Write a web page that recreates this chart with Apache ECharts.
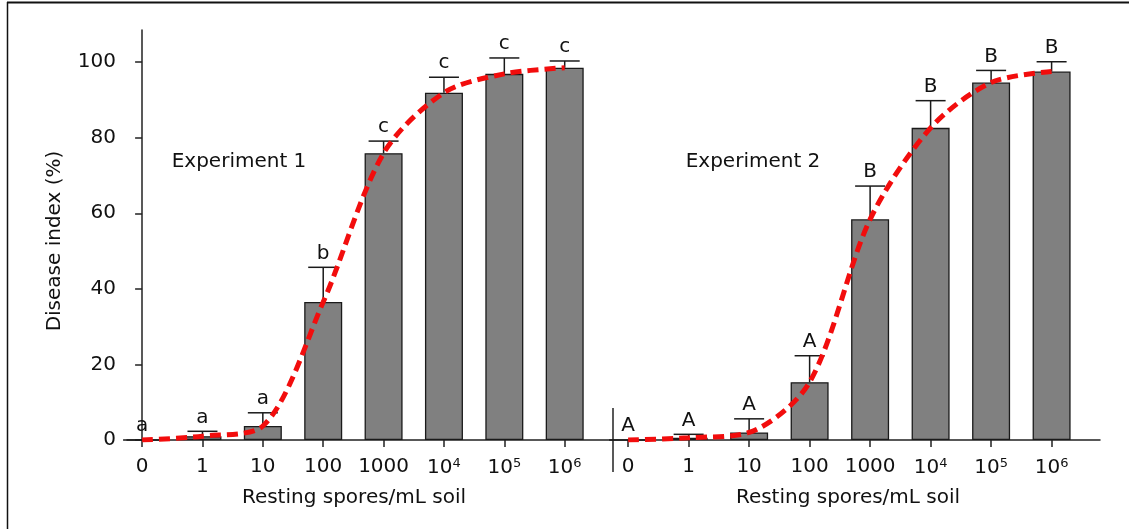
<!DOCTYPE html>
<html>
<head>
<meta charset="utf-8">
<script src="https://cdn.jsdelivr.net/npm/echarts@6/dist/echarts.min.js"></script>
<style>
  html, body { margin: 0; padding: 0; background: #fff; }
  #main { width: 1129px; height: 529px; }
</style>
</head>
<body>
<div id="main"></div>
<script>
// spore concentrations (x categories), tick labels
var xLabels = ['0', '1', '10', '100', '1000', '10^4', '10^5', '10^6'];
var yTicks = [0, 20, 40, 60, 80, 100];

// Experiment 1: disease index means, SD and significance letters
var exp1Mean = [0, 1.0, 3.7, 36.5, 75.9, 91.9, 96.9, 98.5];
var exp1Err = [0, 1.3, 3.5, 9.2, 3.2, 4.1, 4.2, 1.8];
var exp1Letters = ['a', 'a', 'a', 'b', 'c', 'c', 'c', 'c'];

// Experiment 2
var exp2Mean = [0, 0.6, 2.0, 15.3, 58.4, 82.6, 94.6, 97.5];
var exp2Err = [0, 0.9, 3.6, 7.0, 8.8, 7.2, 3.2, 2.6];
var exp2Letters = ['A', 'A', 'A', 'A', 'B', 'B', 'B', 'B'];

var FONT = 'DejaVu Sans';
var idx = xLabels.map(function (d, i) { return i; });

var myChart = echarts.init(document.getElementById('main'));

function xLabelFmt(v) {
    var s = xLabels[Math.round(v)];
    if (s === undefined) return '';
    if (s.indexOf('^') > -1) {
        var p = s.split('^');
        return '{b|' + p[0] + '}{s|' + p[1] + '}';
    }
    return '{b|' + s + '}';
}

function makeXAxis(gridIndex, padRight) {
    return {
        type: 'value',
        gridIndex: gridIndex,
        min: -0.25,
        max: 7.8,
        name: 'Resting spores/mL soil',
        nameLocation: 'middle',
        nameGap: 48,
        nameTextStyle: { fontFamily: FONT, fontSize: 20, color: '#111', padding: [0, padRight, 0, 0] },
        axisLine: { show: true, onZero: false, lineStyle: { color: '#222', width: 1.5 } },
        axisTick: { show: true, customValues: idx, length: 7, lineStyle: { color: '#222', width: 1.5 } },
        axisLabel: {
            customValues: idx,
            margin: 17,
            formatter: xLabelFmt,
            rich: {
                b: { fontFamily: FONT, fontSize: 20, color: '#111' },
                s: { fontFamily: FONT, fontSize: 13, color: '#111', verticalAlign: 'top', padding: [0, 0, 9, 0] }
            }
        },
        splitLine: { show: false }
    };
}

function makeYAxis(gridIndex, visible) {
    return {
        type: 'value',
        gridIndex: gridIndex,
        min: 0,
        max: 108.5,
        show: visible,
        name: visible ? 'Disease index (%)' : '',
        nameLocation: 'middle',
        nameGap: 62,
        nameTextStyle: { fontFamily: FONT, fontSize: 20, color: '#111', padding: [0, 12, 0, 0] },
        axisLine: { show: true, lineStyle: { color: '#222', width: 1.5 } },
        axisTick: { show: true, customValues: yTicks, length: 7, lineStyle: { color: '#222', width: 1.5 } },
        axisLabel: { customValues: yTicks, margin: 11, fontFamily: FONT, fontSize: 20, color: '#111' },
        splitLine: { show: false }
    };
}

function barSeries(gi, mean) {
    return {
        type: 'bar',
        xAxisIndex: gi,
        yAxisIndex: gi,
        barWidth: 38,
        z: 2,
        itemStyle: { color: '#808080', borderColor: '#1a1a1a', borderWidth: 1.3 },
        data: mean.map(function (v, i) { return [i, v]; })
    };
}

function errSeries(gi, mean, err, letters) {
    return {
        type: 'custom',
        xAxisIndex: gi,
        yAxisIndex: gi,
        z: 3,
        data: mean.map(function (v, i) { return [i, v, v + err[i]]; }),
        encode: { x: 0, y: [1, 2] },
        renderItem: function (params, api) {
            var i = api.value(0);
            var top = api.coord([i, api.value(2)]);
            var base = api.coord([i, api.value(1)]);
            var children = [];
            if (api.value(2) > api.value(1)) {
                children.push({
                    type: 'line',
                    shape: { x1: top[0], y1: base[1], x2: top[0], y2: top[1] },
                    style: { stroke: '#1a1a1a', lineWidth: 1.5 }
                });
                children.push({
                    type: 'line',
                    shape: { x1: top[0] - 15, y1: top[1], x2: top[0] + 15, y2: top[1] },
                    style: { stroke: '#1a1a1a', lineWidth: 1.5 }
                });
            }
            children.push({
                type: 'text',
                x: top[0],
                y: top[1] - 4,
                style: {
                    text: letters[params.dataIndex],
                    fontFamily: FONT,
                    fontSize: 20,
                    fill: '#111',
                    align: 'center',
                    verticalAlign: 'bottom'
                }
            });
            return { type: 'group', children: children };
        }
    };
}

function curveSeries(gi, mean) {
    return {
        type: 'line',
        xAxisIndex: gi,
        yAxisIndex: gi,
        z: 4,
        smooth: 0.3,
        symbol: 'none',
        lineStyle: { color: '#f20d0d', width: 5, type: [11, 6], cap: 'butt' },
        data: mean.map(function (v, i) { return [i, v]; })
    };
}

var option = {
    animation: false,
    backgroundColor: '#fff',
    grid: [
        { left: 127, top: 30, width: 486, height: 410 },
        { left: 613, top: 30, width: 487, height: 410 }
    ],
    xAxis: [makeXAxis(0, 32), makeXAxis(1, 17)],
    yAxis: [makeYAxis(0, true), makeYAxis(1, false)],
    graphic: [
        { type: 'line', shape: { x1: 7.5, y1: 2, x2: 7.5, y2: 529 }, style: { stroke: '#111', lineWidth: 1.5 } },
        { type: 'line', shape: { x1: 7, y1: 2.5, x2: 1129, y2: 2.5 }, style: { stroke: '#111', lineWidth: 2 } },
        { type: 'line', shape: { x1: 613, y1: 408, x2: 613, y2: 472 }, style: { stroke: '#222', lineWidth: 1.5 } },
        { type: 'text', x: 239, y: 162, style: { text: 'Experiment 1', fontFamily: FONT, fontSize: 20, fill: '#111', align: 'center', verticalAlign: 'middle' } },
        { type: 'text', x: 753, y: 162, style: { text: 'Experiment 2', fontFamily: FONT, fontSize: 20, fill: '#111', align: 'center', verticalAlign: 'middle' } }
    ],
    series: [
        barSeries(0, exp1Mean),
        errSeries(0, exp1Mean, exp1Err, exp1Letters),
        curveSeries(0, exp1Mean),
        barSeries(1, exp2Mean),
        errSeries(1, exp2Mean, exp2Err, exp2Letters),
        curveSeries(1, exp2Mean)
    ]
};

myChart.setOption(option, true);
</script>
</body>
</html>
